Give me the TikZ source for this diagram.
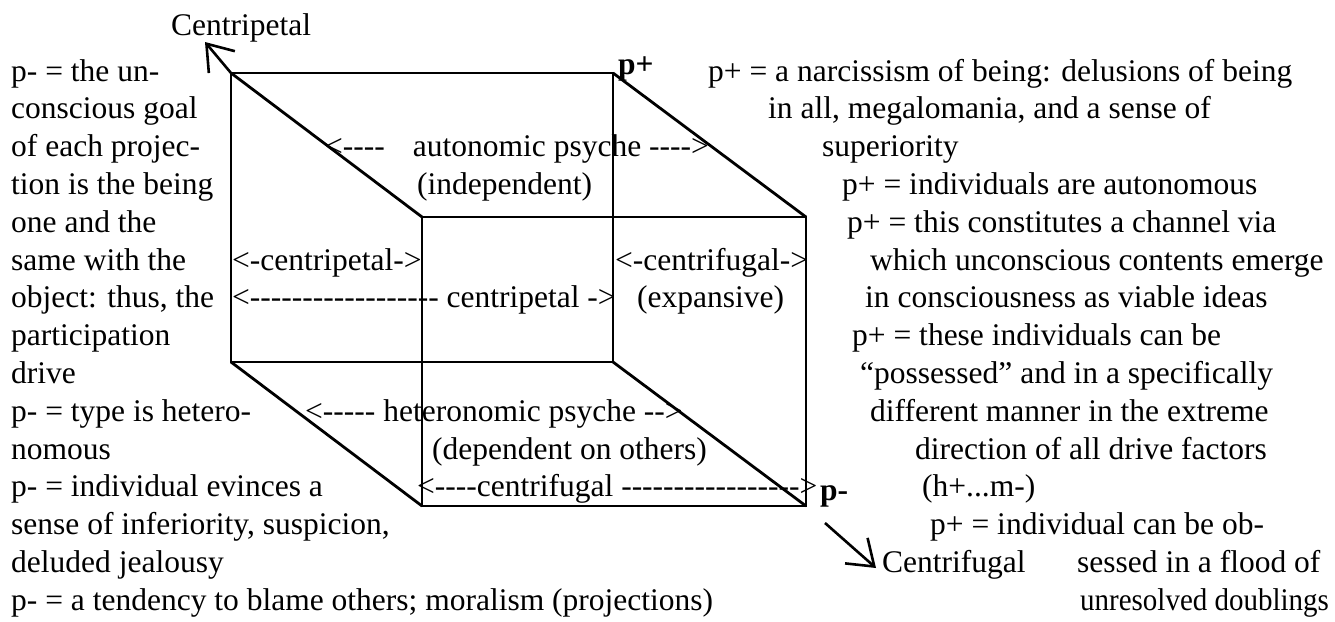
\documentclass[tikz,border=0pt]{standalone}
\usepackage{fontspec}
\setmainfont{Liberation Serif}[Ligatures=TeXOff]
\usetikzlibrary{arrows.meta}
\begin{document}
\begin{tikzpicture}[x=1pt,y=-1pt,
  txt/.style={anchor=base west, inner sep=0pt, font=\fontsize{31.5}{37.8}\selectfont},
  bold/.style={txt, font=\fontsize{31.5}{37.8}\selectfont\bfseries},
  cube/.style={line width=2.8pt, line join=miter},
  arr/.style={line width=2.6pt, -{Straight Barb[length=24pt,width=34pt]}}]
\useasboundingbox (0,0) rectangle (1335,621);
% cube corners
\coordinate (bTL) at (231,73);
\coordinate (bTR) at (613,73);
\coordinate (bBL) at (231,362);
\coordinate (bBR) at (613,362);
\coordinate (fTL) at (422,217);
\coordinate (fTR) at (806,217);
\coordinate (fBL) at (422,506);
\coordinate (fBR) at (806,506);
\draw[cube] (bTL) rectangle (bBR);
\draw[cube] (fTL) rectangle (fBR);
\draw[cube] (bTL) -- (fTL);
\draw[cube] (bTR) -- (fTR);
\draw[cube] (bBL) -- (fBL);
\draw[cube] (bBR) -- (fBR);
% arrows
\coordinate (cpTip) at (205,42);
\draw[arr] (bTL) -- (cpTip);
\coordinate (cfStart) at (825,523);
\coordinate (cfTip) at (876,568);
\draw[arr] (cfStart) -- (cfTip);
% top / corner labels
\node[txt] (centripetal) at (171,35) {Centripetal};
\node[bold] (pplus) at (618,74) {p+};
\node[bold] (pminus) at (820,500) {p-};
\node[txt] (centrifugal) at (882,572.4) {Centrifugal};
% left column
\node[txt] (l1) at (11,81) {p- = the un-};
\node[txt] (l2) at (11,118.8) {conscious goal};
\node[txt] (l3) at (11,156.6) {of each projec-};
\node[txt] (l4) at (11,194.4) {tion is the being};
\node[txt] (l5) at (11,232.2) {one and the};
\node[txt] (l6) at (11,270) {same with the};
\node[txt] (l7) at (11,307.8) {object: thus, the};
\node[txt] (l8) at (11,345.6) {participation};
\node[txt] (l9) at (11,383.4) {drive};
\node[txt] (l10) at (11,421.2) {p- = type is hetero-};
\node[txt] (l11) at (11,459) {nomous};
\node[txt] (l12) at (11,496.8) {p- = individual evinces a};
\node[txt] (l13) at (11,534.6) {sense of inferiority, suspicion,};
\node[txt] (l14) at (11,572.4) {deluded jealousy};
\node[txt] (l15) at (11,610.2) {p- = a tendency to blame others; moralism (projections)};
% inner labels
\node[txt] (auto) at (325,156.6) {<----\hspace{28pt}autonomic psyche ---->};
\node[txt] (indep) at (417,194.4) {(independent)};
\node[txt] (cpin) at (232,270) {<-centripetal->};
\node[txt] (cfin) at (615,270) {<-centrifugal->};
\node[txt] (cplong) at (232,307.8) {<------------------ centripetal ->};
\node[txt] (expans) at (637,307.8) {(expansive)};
\node[txt] (hetero) at (305,421.2) {<----- heteronomic psyche -->};
\node[txt] (depend) at (432,459) {(dependent on others)};
\node[txt] (cflong) at (417,496.8) {<----centrifugal ----------------->};
% right column
\node[txt] (r1) at (708,81) {p+ = a narcissism of being: delusions of being};
\node[txt] (r2) at (768,118.8) {in all, megalomania, and a sense of};
\node[txt] (r3) at (822,156.6) {superiority};
\node[txt] (r4) at (842,194.4) {p+ = individuals are autonomous};
\node[txt] (r5) at (847,232.2) {p+ = this constitutes a channel via};
\node[txt] (r6) at (870,270) {which unconscious contents emerge};
\node[txt] (r7) at (865,307.8) {in consciousness as viable ideas};
\node[txt] (r8) at (852,345.6) {p+ = these individuals can be};
\node[txt] (r9) at (860,383.4) {“possessed” and in a specifically};
\node[txt] (r10) at (870,421.2) {different manner in the extreme};
\node[txt] (r11) at (915,459) {direction of all drive factors};
\node[txt] (r12) at (922,496.8) {(h+...m-)};
\node[txt] (r13) at (930,534.6) {p+ = individual can be ob-};
\node[txt] (r14) at (1077,572.4) {sessed in a flood of};
\node[txt] (r15) at (1080,610.2) {\scalebox{0.92}[1]{unresolved doublings}};
\end{tikzpicture}
\end{document}
